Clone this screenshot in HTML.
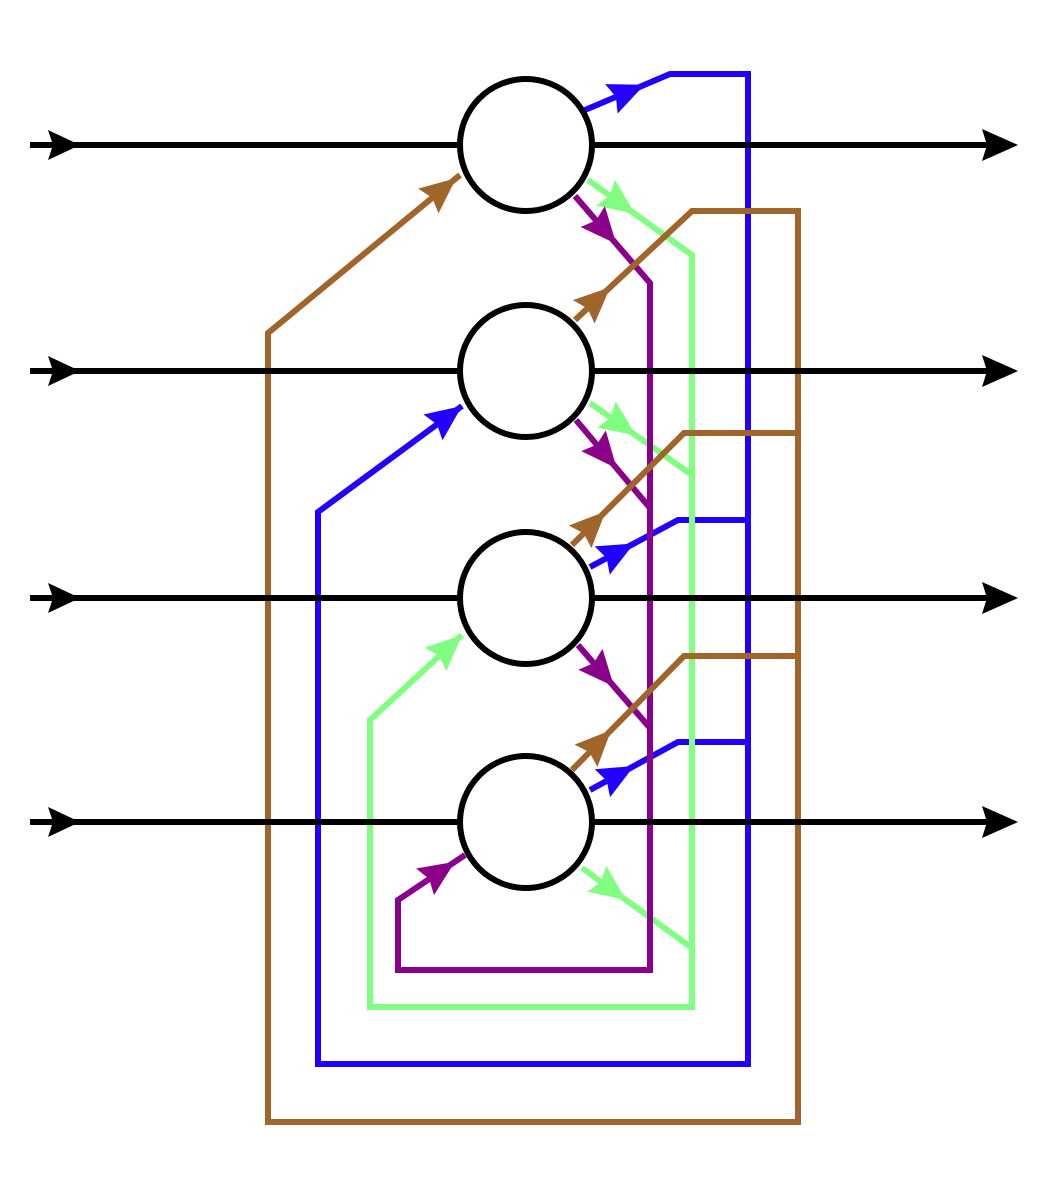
<!DOCTYPE html>
<html><head><meta charset="utf-8"><style>html,body{margin:0;padding:0;background:#fff}svg{display:block}</style></head>
<body>
<svg id="net" width="1047" height="1198" viewBox="0 0 1047 1198" xmlns="http://www.w3.org/2000/svg"></svg>
<script>
const nodeY = [145, 371, 598, 822];
const nodeX = 526;
const R = 66;
const svg = document.getElementById('net');
const NS = 'http://www.w3.org/2000/svg';
function poly(pts, color, name) {
  const p = document.createElementNS(NS, 'polyline');
  p.setAttribute('points', pts.map(q => q.join(',')).join(' '));
  p.setAttribute('fill', 'none');
  p.setAttribute('stroke', color);
  p.setAttribute('stroke-width', '6');
  p.setAttribute('stroke-linejoin', 'miter');
  
  
  svg.appendChild(p);
}
function arrow(a, b, t, color, name, len, w) {
  len = len || 36; w = w || 16;
  const dx = b[0]-a[0], dy = b[1]-a[1], L = Math.hypot(dx, dy);
  const ux = dx/L, uy = dy/L;
  const tx = a[0]+dx*t, ty = a[1]+dy*t;
  const bx = tx-ux*len, by = ty-uy*len;
  const g = document.createElementNS(NS, 'polygon');
  g.setAttribute('points', `${tx},${ty} ${bx-uy*w},${by+ux*w} ${bx+ux*5},${by+uy*5} ${bx+uy*w},${by-ux*w}`);
  g.setAttribute('fill', color);
  
  
  svg.appendChild(g);
}
const BL = '#2200ff', GR = '#80ff80', PU = '#8b008b', BR = '#a0652a';
// blue
poly([[585,110],[670,74],[748,74],[748,1064],[318,1064],[318,512],[462,406]], BL, 'blue-connection');
poly([[748,520],[678,520],[590,567]], BL, 'blue-branch-3');
poly([[748,742],[678,742],[590,790]], BL, 'blue-branch-4');
arrow([585,110],[670,74],0.7,BL,'blue-arrow-1');
arrow([318,512],[462,406],1,BL,'blue-arrow-2');
arrow([590,567],[678,520],0.5,BL,'blue-arrow-3');
arrow([590,790],[678,742],0.5,BL,'blue-arrow-4');
// green
poly([[588,180],[692,255],[692,1007],[370,1007],[370,720],[462,635]], GR, 'green-connection');
poly([[590,403],[692,475]], GR, 'green-branch-2');
poly([[582,868],[692,948]], GR, 'green-branch-4');
arrow([588,180],[692,255],0.45,GR,'green-arrow-1');
arrow([590,403],[692,475],0.45,GR,'green-arrow-2');
arrow([370,720],[462,635],1,GR,'green-arrow-3');
arrow([582,868],[692,948],0.4,GR,'green-arrow-4');
// purple
poly([[575,196],[650,283],[650,970],[398,970],[398,900],[465,855]], PU, 'purple-connection');
poly([[576,420],[650,508]], PU, 'purple-branch-2');
poly([[578,645],[650,728]], PU, 'purple-branch-3');
arrow([575,196],[650,283],0.55,PU,'purple-arrow-1');
arrow([576,420],[650,508],0.55,PU,'purple-arrow-2');
arrow([578,645],[650,728],0.5,PU,'purple-arrow-3');
arrow([398,900],[465,855],0.85,PU,'purple-arrow-4');
// brown
poly([[460,175],[268,333],[268,1122],[798,1122],[798,211],[692,211],[575,320]], BR, 'brown-connection');
poly([[798,433],[684,433],[572,545]], BR, 'brown-branch-3');
poly([[798,656],[684,656],[572,770]], BR, 'brown-branch-4');
arrow([268,333],[460,175],0.98,BR,'brown-arrow-1');
arrow([575,320],[692,211],0.3,BR,'brown-arrow-2');
arrow([572,545],[684,433],0.3,BR,'brown-arrow-3');
arrow([572,770],[684,656],0.35,BR,'brown-arrow-4');
// black lines, nodes
nodeY.forEach((y, i) => {
  poly([[30,y],[1000,y]], '#000', 'signal-line-' + (i+1));
  arrow([30,y],[80,y],1,'#000','input-arrow-' + (i+1),32,15);
  arrow([900,y],[1018,y],1,'#000','output-arrow-' + (i+1),36,16);
  const c = document.createElementNS(NS, 'circle');
  c.setAttribute('cx', nodeX); c.setAttribute('cy', y); c.setAttribute('r', R);
  c.setAttribute('fill', '#fff'); c.setAttribute('stroke', '#000'); c.setAttribute('stroke-width', '6');
  
  
  svg.appendChild(c);
});
</script>
</body></html>
